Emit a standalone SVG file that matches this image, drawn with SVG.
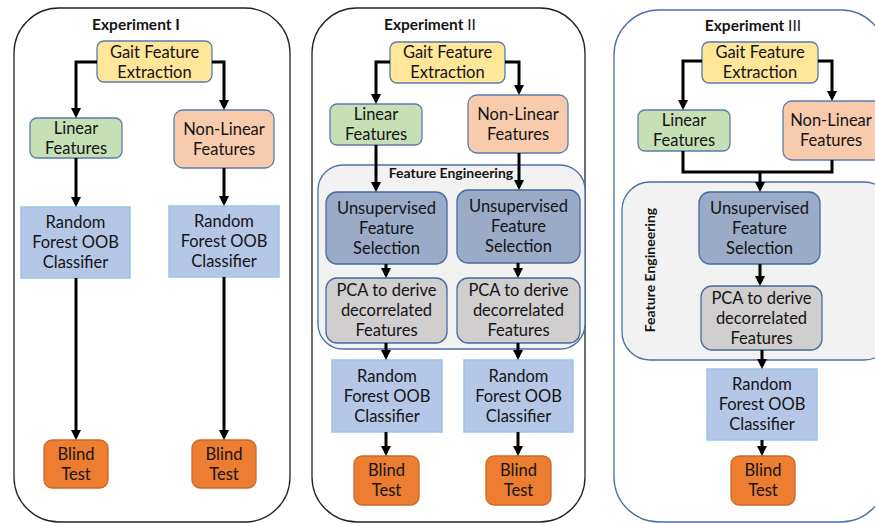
<svg xmlns="http://www.w3.org/2000/svg" width="875" height="523" viewBox="0 0 875 523">
<style>
text{font-family:Lato,"Open Sans","Liberation Sans",sans-serif;font-size:16.5px;fill:#141414;text-anchor:middle}
.title{font-weight:bold;font-size:15.5px}
.fe{font-weight:bold;font-size:14px}
.outer{fill:#fff;stroke:#222;stroke-width:1.3}
.outer3{fill:#fff;stroke:#4a6fa5;stroke-width:1.3}
.fec{fill:#f2f2f2;stroke:#4a6fa5;stroke-width:1.3}
.gait{fill:#ffe699;stroke:#5b7bb0;stroke-width:1.3}
.lin{fill:#c5e0b4;stroke:#5b7bb0;stroke-width:1.3}
.nl{fill:#f8cbad;stroke:#5b7bb0;stroke-width:1.3}
.rf{fill:#b4c7e7;stroke:#9dc3e6;stroke-width:1.5}
.bt{fill:#ed7d31;stroke:#c9692a;stroke-width:1.3}
.us{fill:#9aabc8;stroke:#4a6a9b;stroke-width:1.3}
.pca{fill:#d0cece;stroke:#4a6a9b;stroke-width:1.3}
.c{fill:none;stroke:#000;stroke-width:3}
.a{marker-end:url(#ah)}
</style>
<defs>
<marker id="ah" viewBox="0 0 10 10" refX="7" refY="5" markerWidth="10" markerHeight="10" markerUnits="userSpaceOnUse" orient="auto">
<path d="M0,0 L10,5 L0,10 z" fill="#000"/>
</marker>
</defs>

<!-- containers -->
<g id="exp1">
<rect class="outer" x="14" y="8" width="276" height="514" rx="45"/>
<text class="title" x="136" y="30">Experiment I</text>
</g>
<g id="exp2">
<rect class="outer" x="312" y="8" width="273" height="514" rx="45"/>
<text class="title" x="430" y="30">Experiment <tspan font-weight="normal">II</tspan></text>
</g>
<g id="exp3">
<rect class="outer3" x="614" y="10" width="272" height="512" rx="45"/>
<text class="title" x="753" y="31">Experiment <tspan font-weight="normal">III</tspan></text>
</g>
<g id="fe2">
<rect class="fec" x="318" y="165" width="267" height="184" rx="25"/>
<text class="fe" x="451" y="178">Feature Engineering</text>
</g>
<g id="fe3">
<rect class="fec" x="622" y="182" width="270" height="178" rx="28"/>
<text class="fe" transform="translate(655,270) rotate(-90)">Feature Engineering</text>
</g>

<!-- Experiment I nodes -->
<g id="gait1"><rect class="gait" x="97" y="41" width="115" height="41" rx="7"/><text x="154.5" y="57.5">Gait Feature</text><text x="154.5" y="77.5">Extraction</text></g>
<g id="lin1"><rect class="lin" x="30" y="118" width="92" height="40" rx="7"/><text x="76" y="133.5">Linear</text><text x="76" y="153.5">Features</text></g>
<g id="nl1"><rect class="nl" x="174" y="110" width="100" height="58" rx="9"/><text x="224" y="134.5">Non-Linear</text><text x="224" y="154.5">Features</text></g>
<g id="rf1a"><rect class="rf" x="21" y="207" width="109" height="71"/><text x="75.5" y="228">Random</text><text x="75.5" y="248">Forest OOB</text><text x="75.5" y="268">Classifier</text></g>
<g id="rf1b"><rect class="rf" x="169" y="206" width="110" height="71"/><text x="224" y="227">Random</text><text x="224" y="247">Forest OOB</text><text x="224" y="267">Classifier</text></g>
<g id="bt1a"><rect class="bt" x="44" y="440" width="64" height="48" rx="8"/><text x="76" y="459.5">Blind</text><text x="76" y="479.5">Test</text></g>
<g id="bt1b"><rect class="bt" x="192" y="440" width="64" height="48" rx="8"/><text x="224" y="459.5">Blind</text><text x="224" y="479.5">Test</text></g>

<!-- Experiment II nodes -->
<g id="gait2"><rect class="gait" x="390" y="42" width="115" height="41" rx="7"/><text x="447.5" y="58">Gait Feature</text><text x="447.5" y="78">Extraction</text></g>
<g id="lin2"><rect class="lin" x="330" y="104" width="92" height="41" rx="7"/><text x="376" y="120">Linear</text><text x="376" y="140">Features</text></g>
<g id="nl2"><rect class="nl" x="468" y="95" width="100" height="58" rx="9"/><text x="518" y="119.5">Non-Linear</text><text x="518" y="139.5">Features</text></g>
<g id="us2a"><rect class="us" x="326" y="192" width="121" height="72" rx="11"/><text x="386.5" y="213.5">Unsupervised</text><text x="386.5" y="233.5">Feature</text><text x="386.5" y="253.5">Selection</text></g>
<g id="us2b"><rect class="us" x="457" y="190" width="123" height="73" rx="11"/><text x="518.5" y="212">Unsupervised</text><text x="518.5" y="232">Feature</text><text x="518.5" y="252">Selection</text></g>
<g id="pca2a"><rect class="pca" x="326" y="278" width="121" height="65" rx="11"/><text x="386.5" y="296">PCA to derive</text><text x="386.5" y="316">decorrelated</text><text x="386.5" y="336">Features</text></g>
<g id="pca2b"><rect class="pca" x="457" y="278" width="123" height="65" rx="11"/><text x="518.5" y="296">PCA to derive</text><text x="518.5" y="316">decorrelated</text><text x="518.5" y="336">Features</text></g>
<g id="rf2a"><rect class="rf" x="332" y="360" width="110" height="72"/><text x="387" y="381.5">Random</text><text x="387" y="401.5">Forest OOB</text><text x="387" y="421.5">Classifier</text></g>
<g id="rf2b"><rect class="rf" x="464" y="360" width="109" height="72"/><text x="518.5" y="381.5">Random</text><text x="518.5" y="401.5">Forest OOB</text><text x="518.5" y="421.5">Classifier</text></g>
<g id="bt2a"><rect class="bt" x="354" y="456" width="65" height="49" rx="8"/><text x="386.5" y="476">Blind</text><text x="386.5" y="496">Test</text></g>
<g id="bt2b"><rect class="bt" x="486" y="456" width="65" height="49" rx="8"/><text x="518.5" y="476">Blind</text><text x="518.5" y="496">Test</text></g>

<!-- Experiment III nodes -->
<g id="gait3"><rect class="gait" x="702" y="42" width="116" height="41" rx="7"/><text x="760" y="58">Gait Feature</text><text x="760" y="78">Extraction</text></g>
<g id="lin3"><rect class="lin" x="638" y="110" width="92" height="41" rx="7"/><text x="684" y="126">Linear</text><text x="684" y="146">Features</text></g>
<g id="nl3"><rect class="nl" x="783" y="101" width="100" height="59" rx="9"/><text x="831" y="126">Non-Linear</text><text x="831" y="146">Features</text></g>
<g id="us3"><rect class="us" x="699" y="192" width="121" height="72" rx="11"/><text x="759.5" y="213.5">Unsupervised</text><text x="759.5" y="233.5">Feature</text><text x="759.5" y="253.5">Selection</text></g>
<g id="pca3"><rect class="pca" x="701" y="286" width="121" height="64" rx="11"/><text x="761.5" y="303.5">PCA to derive</text><text x="761.5" y="323.5">decorrelated</text><text x="761.5" y="343.5">Features</text></g>
<g id="rf3"><rect class="rf" x="707" y="369" width="110" height="71"/><text x="762" y="390">Random</text><text x="762" y="410">Forest OOB</text><text x="762" y="430">Classifier</text></g>
<g id="bt3"><rect class="bt" x="731" y="456" width="64" height="49" rx="8"/><text x="763" y="476">Blind</text><text x="763" y="496">Test</text></g>

<!-- connectors -->
<g id="connectors">
<path class="c a" d="M97,62 H76 V115"/>
<path class="c a" d="M212,62 H224 V107"/>
<path class="c a" d="M76,158 V204"/>
<path class="c a" d="M224,168 V203"/>
<path class="c a" d="M76,278 V437"/>
<path class="c a" d="M224,277 V437"/>

<path class="c a" d="M390,62 H376 V101"/>
<path class="c a" d="M505,62 H519 V92"/>
<path class="c a" d="M376,145 V189"/>
<path class="c a" d="M519,153 V187"/>
<path class="c a" d="M386,264 V275"/>
<path class="c a" d="M518,263 V275"/>
<path class="c a" d="M386,343 V357"/>
<path class="c a" d="M518,343 V357"/>
<path class="c a" d="M386,432 V453"/>
<path class="c a" d="M518,432 V453"/>

<path class="c a" d="M702,61 H683 V107"/>
<path class="c a" d="M818,61 H832 V98"/>
<path class="c" d="M683,151 V172 H832 V160"/>
<path class="c a" d="M760,172 V189"/>
<path class="c a" d="M760,264 V283"/>
<path class="c a" d="M762,350 V366"/>
<path class="c a" d="M762,440 V453"/>
</g>
</svg>
